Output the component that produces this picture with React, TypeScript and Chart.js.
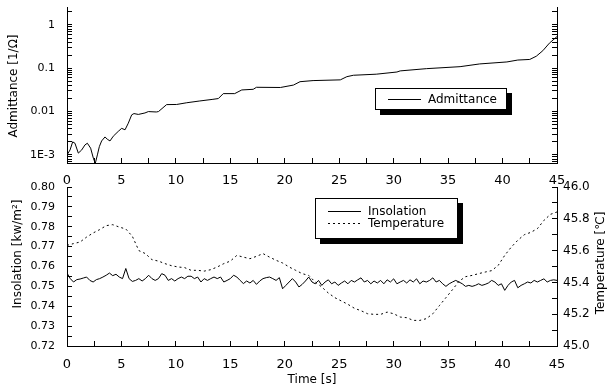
import React, { useEffect, useRef } from "react";
import { Chart, registerables } from "chart.js";

Chart.register(...registerables);

const FONT = "'DejaVu Sans', sans-serif";

// ---------- Top panel: admittance ----------
const admTime = [
  0, 0.28, 0.52, 0.73, 1.04, 1.35, 1.65, 1.87, 2.17, 2.42, 2.6, 2.79, 2.97, 3.18, 3.49, 3.7, 3.95, 4.25, 4.71,
  5.02, 5.33, 5.63, 5.94, 6.15, 6.55, 7.16, 7.47, 8.2, 8.4, 9.15, 10.07, 11.0, 12.2, 13.4, 13.9, 14.35, 15.4,
  16.05, 17.1, 17.4, 19.6, 20.8, 21.4, 22.6, 25.1, 25.7, 26.3, 28.4, 30.3, 30.6, 33.0, 36.1, 37.9, 40.4, 41.4,
  42.5, 43.1, 43.7, 44.3, 45,
];
const admValue = [
  0.001, 0.0013, 0.002, 0.00186, 0.0011, 0.0013, 0.0017, 0.00186, 0.00143, 0.00084, 0.00064, 0.001, 0.00155,
  0.0021, 0.0026, 0.0023, 0.0021, 0.0027, 0.0035, 0.0041, 0.0038, 0.0054, 0.0084, 0.009, 0.0086, 0.0093, 0.01,
  0.0098, 0.01, 0.0145, 0.0146, 0.016, 0.0176, 0.0192, 0.02, 0.026, 0.026, 0.0316, 0.0327, 0.0364, 0.036, 0.041,
  0.049, 0.052, 0.054, 0.064, 0.069, 0.073, 0.082, 0.087, 0.098, 0.109, 0.126, 0.14, 0.155, 0.16, 0.19, 0.255,
  0.38, 0.54,
];
const logMajor = [0.001, 0.01, 0.1, 1];
const logMajorLabels = ["1E-3", "0.01", "0.1", "1"];

// ---------- Bottom panel: insolation & temperature ----------
const insTime = [
  0, 0.3, 0.6, 0.9, 1.2, 1.5, 1.8, 2.1, 2.4, 2.7,
  3, 3.3, 3.6, 3.9, 4.2, 4.5, 4.8, 5.1, 5.4, 5.7,
  6, 6.3, 6.6, 6.9, 7.2, 7.5, 7.8, 8.1, 8.4, 8.7,
  9, 9.3, 9.6, 9.9, 10.2, 10.5, 10.8, 11.1, 11.4, 11.7,
  12, 12.3, 12.6, 12.9, 13.2, 13.5, 13.8, 14.1, 14.4, 14.7,
  15, 15.3, 15.6, 15.9, 16.2, 16.5, 16.8, 17.1, 17.4, 17.7,
  18, 18.3, 18.6, 18.9, 19.2, 19.5, 19.8, 20.1, 20.4, 20.7,
  21, 21.3, 21.6, 21.9, 22.2, 22.5, 22.8, 23.1, 23.4, 23.7,
  24, 24.3, 24.6, 24.9, 25.2, 25.5, 25.8, 26.1, 26.4, 26.7,
  27, 27.3, 27.6, 27.9, 28.2, 28.5, 28.8, 29.1, 29.4, 29.7,
  30, 30.3, 30.6, 30.9, 31.2, 31.5, 31.8, 32.1, 32.4, 32.7,
  33, 33.3, 33.6, 33.9, 34.2, 34.5, 34.8, 35.1, 35.4, 35.7,
  36, 36.3, 36.6, 36.9, 37.2, 37.5, 37.8, 38.1, 38.4, 38.7,
  39, 39.3, 39.6, 39.9, 40.2, 40.5, 40.8, 41.1, 41.4, 41.7,
  42, 42.3, 42.6, 42.9, 43.2, 43.5, 43.8, 44.1, 44.4, 44.7,
  45,
];
const insValue = [
  0.7567, 0.7539, 0.7522, 0.7534, 0.7537, 0.7542, 0.7547, 0.753, 0.7522, 0.7534,
  0.7539, 0.7547, 0.7556, 0.7567, 0.7554, 0.7561, 0.7547, 0.7539, 0.759, 0.7539,
  0.7525, 0.753, 0.7539, 0.7527, 0.7539, 0.7556, 0.7539, 0.753, 0.7539, 0.7564,
  0.7556, 0.753, 0.7539, 0.7527, 0.7539, 0.7547, 0.7539, 0.7551, 0.7551, 0.7539,
  0.7547, 0.7522, 0.7539, 0.753, 0.7539, 0.7547, 0.7539, 0.7547, 0.7522, 0.753,
  0.7539, 0.7556, 0.7547, 0.753, 0.7514, 0.7527, 0.7517, 0.753, 0.751, 0.7527,
  0.7539, 0.7544, 0.7547, 0.7539, 0.753, 0.7544, 0.7488, 0.7505, 0.7522, 0.7539,
  0.7522, 0.7497, 0.751, 0.7527, 0.7547, 0.7522, 0.7513, 0.753, 0.7505, 0.7522,
  0.7533, 0.7513, 0.7522, 0.7505, 0.7517, 0.7527, 0.7513, 0.753, 0.7522, 0.7533,
  0.7543, 0.7522, 0.753, 0.7513, 0.7527, 0.7517, 0.753, 0.7513, 0.7533, 0.7522,
  0.7538, 0.7513, 0.7522, 0.753, 0.7517, 0.7533, 0.7522, 0.7538, 0.7513, 0.7527,
  0.7522, 0.753, 0.7543, 0.7522, 0.753, 0.7513, 0.75, 0.7513, 0.7522, 0.753,
  0.7522, 0.7513, 0.75, 0.7505, 0.75, 0.7505, 0.7513, 0.7505, 0.751, 0.7517,
  0.753, 0.7522, 0.7505, 0.7513, 0.748, 0.7505, 0.7522, 0.753, 0.7493, 0.7505,
  0.7513, 0.7522, 0.7517, 0.753, 0.7522, 0.753, 0.7538, 0.7522, 0.753, 0.7533,
  0.753,
];
const tempTime = [
  0, 0.6, 1.2, 1.8, 2.4, 3, 3.6, 4.2, 4.8, 5.4,
  6, 6.6, 7.2, 7.8, 8.4, 9, 9.6, 10.2, 10.8, 11.4,
  12, 12.6, 13.2, 13.8, 14.4, 15, 15.6, 16.2, 16.8, 17.4,
  18, 18.6, 19.2, 19.8, 20.4, 21, 21.6, 22.2, 22.8, 23.4,
  24, 24.6, 25.2, 25.8, 26.4, 27, 27.6, 28.2, 28.8, 29.4,
  30, 30.6, 31.2, 31.8, 32.4, 33, 33.6, 34.2, 34.8, 35.4,
  36, 36.6, 37.2, 37.8, 38.4, 39, 39.6, 40.2, 40.8, 41.4,
  42, 42.6, 43.2, 43.8, 44.4, 45,
];
const tempValue = [
  45.633, 45.644, 45.654, 45.685, 45.711, 45.732, 45.757, 45.763, 45.748, 45.736,
  45.69, 45.6, 45.581, 45.543, 45.534, 45.518, 45.505, 45.497, 45.493, 45.476,
  45.476, 45.471, 45.48, 45.497, 45.518, 45.534, 45.57, 45.559, 45.549, 45.564,
  45.581, 45.559, 45.539, 45.522, 45.497, 45.476, 45.455, 45.444, 45.402, 45.371,
  45.333, 45.304, 45.283, 45.262, 45.237, 45.222, 45.203, 45.199, 45.199, 45.213,
  45.203, 45.182, 45.178, 45.161, 45.161, 45.172, 45.203, 45.254, 45.304, 45.354,
  45.407, 45.436, 45.444, 45.455, 45.465, 45.474, 45.507, 45.57, 45.622, 45.665,
  45.7, 45.715, 45.738, 45.79, 45.828, 45.843,
];

const W = 613;
const TOP_H = 190;
const BOT_TOP = 175;
const BOT_H = 212;

const font = (size: number) => ({ family: FONT, size });

function zeroPad(s: any) {
  s.paddingTop = 0;
  s.paddingBottom = 0;
  s.paddingLeft = 0;
  s.paddingRight = 0;
}

function xScale(padding: number, height: number, title?: string) {
  return {
    type: "linear",
    position: "bottom",
    min: 0,
    max: 45,
    grid: { drawOnChartArea: false, tickLength: -5, color: "#000", tickColor: "#000" },
    border: { color: "#000", width: 1 },
    ticks: {
      stepSize: 2.5,
      autoSkip: false,
      maxRotation: 0,
      padding,
      color: "#000",
      font: font(13),
      callback: (v: number) => (Math.abs(v % 5) < 1e-9 ? String(v) : ""),
    },
    title: title
      ? { display: true, text: title, color: "#000", font: font(12), padding: { top: 0, bottom: 0 } }
      : { display: false },
    afterFit: (s: any) => {
      s.height = height;
      zeroPad(s);
    },
  };
}

function logTicks(scale: any) {
  const ticks: any[] = [];
  for (let e = -4; e <= 0; e++) {
    for (let m = 1; m <= 9; m++) {
      const v = +(m * Math.pow(10, e)).toPrecision(6);
      if (v >= scale.min && v <= scale.max) ticks.push({ value: v });
    }
  }
  scale.ticks = ticks;
}

function logAxis(position: string, showLabels: boolean, width: number, padding: number) {
  return {
    type: "logarithmic",
    position,
    min: 0.00065,
    max: 2.6,
    grid: { drawOnChartArea: false, tickLength: -5, color: "#000", tickColor: "#000" },
    border: { color: "#000", width: 1 },
    afterBuildTicks: logTicks,
    ticks: {
      autoSkip: false,
      padding,
      color: "#000",
      font: font(11),
      callback: (v: number) => {
        if (!showLabels) return "";
        const i = logMajor.findIndex((d) => Math.abs(d - v) / d < 1e-6);
        return i >= 0 ? logMajorLabels[i] : "";
      },
    },
    afterFit: (s: any) => {
      s.width = width;
      zeroPad(s);
    },
  };
}

type LegendItem = { label: string; dash: number[]; y: number };
function boxLegendPlugin(id: string, box: { x: number; y: number; w: number; h: number }, items: LegendItem[]) {
  return {
    id,
    afterDraw(chart: any) {
      const ctx = chart.ctx;
      ctx.save();
      ctx.fillStyle = "#000";
      ctx.fillRect(box.x + 5, box.y + 5, box.w, box.h);
      ctx.fillStyle = "#fff";
      ctx.fillRect(box.x, box.y, box.w, box.h);
      ctx.strokeStyle = "#000";
      ctx.lineWidth = 1;
      ctx.strokeRect(box.x + 0.5, box.y + 0.5, box.w - 1, box.h - 1);
      ctx.font = `12px ${FONT}`;
      ctx.textBaseline = "middle";
      ctx.textAlign = "left";
      items.forEach((it) => {
        ctx.setLineDash(it.dash);
        ctx.beginPath();
        ctx.moveTo(box.x + 13, it.y + 0.5);
        ctx.lineTo(box.x + 46, it.y + 0.5);
        ctx.stroke();
        ctx.setLineDash([]);
        ctx.fillStyle = "#000";
        ctx.fillText(it.label, box.x + 53, it.y + 1);
      });
      ctx.restore();
    },
  };
}

function vTitlePlugin(id: string, titles: { text: string; x: number; y: number }[]) {
  return {
    id,
    afterDraw(chart: any) {
      const ctx = chart.ctx;
      ctx.save();
      ctx.fillStyle = "#000";
      ctx.font = `12px ${FONT}`;
      ctx.textAlign = "center";
      ctx.textBaseline = "middle";
      titles.forEach((t) => {
        ctx.save();
        ctx.translate(t.x, t.y);
        ctx.rotate(-Math.PI / 2);
        ctx.fillText(t.text, 0, 0);
        ctx.restore();
      });
      ctx.restore();
    },
  };
}

export default function App() {
  const topRef = useRef<HTMLCanvasElement>(null);
  const botRef = useRef<HTMLCanvasElement>(null);

  useEffect(() => {
    const top = new Chart(topRef.current as HTMLCanvasElement, {
      type: "line",
      data: {
        datasets: [
          {
            label: "Admittance",
            data: admTime.map((t, i) => ({ x: t, y: admValue[i] })),
            borderColor: "#000",
            borderWidth: 1,
            pointRadius: 0,
            tension: 0,
            yAxisID: "y",
          },
        ],
      },
      options: {
        responsive: false,
        animation: false,
        events: [],
        layout: { padding: { top: 7, left: 0, right: 0, bottom: 0 } },
        plugins: { legend: { display: false }, tooltip: { enabled: false } },
        scales: {
          x: xScale(15, TOP_H - 163),
          y: logAxis("left", true, 67, 17),
          y2: logAxis("right", false, W - 557, 11),
        } as any,
      },
      plugins: [
        boxLegendPlugin("admLegend", { x: 375, y: 88, w: 132, h: 22 }, [
          { label: "Admittance", dash: [], y: 99 },
        ]),
        vTitlePlugin("admTitle", [{ text: "Admittance [1/Ω]", x: 14, y: 86 }]),
      ],
    } as any);

    const bot = new Chart(botRef.current as HTMLCanvasElement, {
      type: "line",
      data: {
        datasets: [
          {
            label: "Insolation",
            data: insTime.map((t, i) => ({ x: t, y: insValue[i] })),
            borderColor: "#000",
            borderWidth: 1,
            pointRadius: 0,
            tension: 0,
            yAxisID: "y",
          },
          {
            label: "Temperature",
            data: tempTime.map((t, i) => ({ x: t, y: tempValue[i] })),
            borderColor: "#000",
            borderWidth: 1,
            borderDash: [2, 3],
            pointRadius: 0,
            tension: 0,
            yAxisID: "y1",
          },
        ],
      },
      options: {
        responsive: false,
        animation: false,
        events: [],
        layout: { padding: { top: 187 - BOT_TOP, left: 0, right: 0, bottom: 0 } },
        plugins: { legend: { display: false }, tooltip: { enabled: false } },
        scales: {
          x: xScale(16, BOT_H - (346 - BOT_TOP), "Time [s]"),
          y: {
            type: "linear",
            position: "left",
            min: 0.72,
            max: 0.8,
            grid: { drawOnChartArea: false, tickLength: -5, color: "#000", tickColor: "#000" },
            border: { color: "#000", width: 1 },
            ticks: {
              stepSize: 0.005,
              autoSkip: false,
              padding: 17,
              color: "#000",
              font: font(11),
              callback: (v: number) => (Math.round(v * 1000) % 10 === 0 ? v.toFixed(2) : ""),
            },
            afterFit: (s: any) => {
              s.width = 67;
              zeroPad(s);
            },
          },
          y1: {
            type: "linear",
            position: "right",
            min: 45,
            max: 46,
            grid: { drawOnChartArea: false, tickLength: -5, color: "#000", tickColor: "#000" },
            border: { color: "#000", width: 1 },
            ticks: {
              stepSize: 0.1,
              autoSkip: false,
              padding: 11,
              color: "#000",
              font: font(12),
              callback: (v: number) => (Math.round(v * 10) % 2 === 0 ? v.toFixed(1) : ""),
            },
            afterFit: (s: any) => {
              s.width = W - 557;
              zeroPad(s);
            },
          },
        } as any,
      },
      plugins: [
        boxLegendPlugin("insLegend", { x: 315, y: 198 - BOT_TOP, w: 143, h: 41 }, [
          { label: "Insolation", dash: [], y: 211 - BOT_TOP },
          { label: "Temperature", dash: [2, 3], y: 223 - BOT_TOP },
        ]),
        vTitlePlugin("insTitles", [
          { text: "Insolation [kw/m²]", x: 18, y: 254 - BOT_TOP },
          { text: "Temperature [℃]", x: 601, y: 263 - BOT_TOP },
        ]),
      ],
    } as any);

    return () => {
      top.destroy();
      bot.destroy();
    };
  }, []);

  return (
    <div style={{ position: "absolute", left: 0, top: 0, width: W, height: 387, background: "#fff" }}>
      <canvas ref={topRef} width={W} height={TOP_H} style={{ position: "absolute", left: 0, top: 0 }} />
      <canvas ref={botRef} width={W} height={BOT_H} style={{ position: "absolute", left: 0, top: BOT_TOP }} />
    </div>
  );
}
